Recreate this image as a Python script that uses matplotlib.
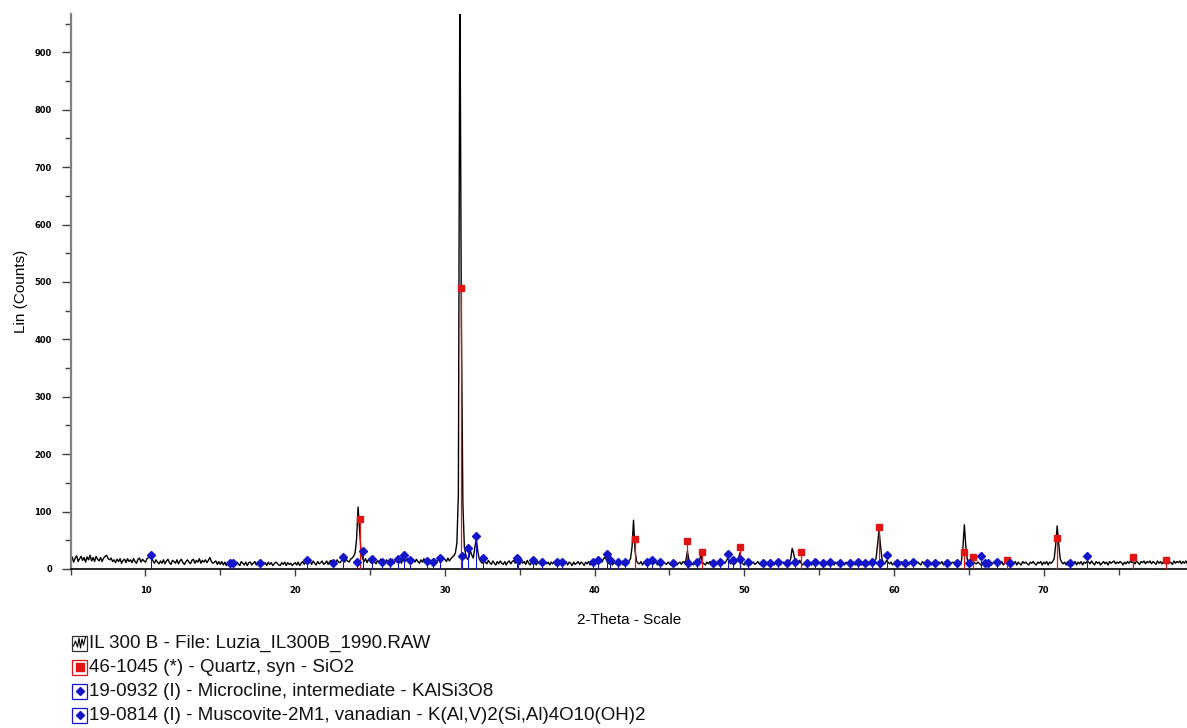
import numpy as np
import matplotlib
matplotlib.use("Agg")
from matplotlib import pyplot as plt
from matplotlib.patches import Rectangle

# measured pattern, one row per degree, 0.1 deg steps starting at 5.0
counts = [
    14, 21, 12, 19, 23, 13, 18, 22, 15, 20,
    12, 21, 16, 24, 14, 20, 13, 22, 17, 14,
    20, 13, 19, 22, 24, 18, 16, 19, 13, 16,
    11, 17, 13, 18, 10, 15, 17, 11, 18, 13,
    16, 11, 18, 13, 10, 17, 19, 12, 17, 14,
    12, 18, 20, 26, 22, 14, 10, 16, 12, 9,
    14, 10, 16, 9, 14, 17, 11, 8, 15, 13,
    10, 16, 9, 14, 17, 11, 8, 13, 16, 12,
    9, 15, 17, 10, 15, 12, 18, 10, 15, 12,
    16, 11, 15, 20, 13, 10, 12, 14, 8, 13,
    8, 13, 7, 12, 6, 11, 13, 7, 12, 9,
    7, 12, 9, 6, 13, 10, 7, 12, 6, 11,
    12, 7, 10, 13, 7, 12, 9, 6, 11, 8,
    11, 6, 12, 8, 11, 6, 9, 12, 10, 7,
    6, 11, 8, 12, 6, 11, 8, 10, 6, 9,
    11, 7, 12, 6, 10, 13, 8, 12, 15, 11,
    13, 8, 14, 10, 7, 13, 9, 11, 14, 8,
    10, 14, 8, 13, 15, 10, 14, 11, 16, 12,
    11, 15, 19, 12, 17, 14, 12, 17, 19, 22,
    28, 52, 108, 70, 30, 18, 13, 18, 11, 17,
    13, 10, 16, 12, 9, 15, 11, 17, 12, 16,
    10, 16, 12, 9, 15, 17, 10, 15, 12, 16,
    15, 10, 19, 12, 16, 18, 11, 15, 10, 16,
    12, 17, 13, 10, 16, 12, 18, 13, 11, 16,
    15, 10, 16, 18, 12, 15, 17, 11, 16, 18,
    17, 13, 19, 14, 18, 21, 23, 28, 45, 130,
    1050, 430, 115, 38, 24, 17, 20, 32, 24, 19,
    38, 52, 30, 17, 13, 10, 16, 12, 9, 15,
    11, 8, 14, 10, 7, 13, 9, 14, 10, 8,
    13, 7, 12, 14, 9, 13, 15, 10, 16, 11,
    8, 14, 10, 13, 8, 15, 10, 7, 13, 9,
    12, 7, 13, 9, 14, 10, 7, 13, 9, 12,
    7, 12, 9, 13, 7, 10, 13, 11, 7, 10,
    9, 13, 7, 12, 10, 6, 12, 8, 10, 13,
    8, 12, 10, 6, 12, 9, 13, 7, 12, 10,
    12, 9, 13, 11, 15, 12, 18, 21, 15, 10,
    9, 13, 7, 12, 9, 13, 8, 10, 12, 7,
    11, 13, 9, 14, 18, 38, 85, 32, 14, 10,
    9, 13, 7, 12, 10, 7, 12, 9, 13, 8,
    10, 12, 7, 13, 9, 6, 12, 10, 8, 12,
    9, 7, 12, 10, 13, 7, 10, 12, 8, 13,
    11, 15, 31, 16, 10, 9, 7, 12, 9, 13,
    14, 24, 12, 9, 7, 12, 9, 13, 7, 10,
    12, 7, 10, 13, 9, 7, 12, 10, 14, 19,
    12, 9, 12, 7, 10, 13, 16, 28, 13, 9,
    7, 12, 9, 13, 7, 10, 12, 8, 10, 13,
    9, 7, 12, 10, 6, 12, 9, 7, 13, 10,
    7, 12, 10, 13, 7, 10, 12, 9, 7, 14,
    12, 18, 36, 27, 13, 10, 9, 15, 10, 7,
    10, 13, 7, 12, 9, 7, 12, 10, 13, 8,
    12, 9, 7, 13, 10, 12, 7, 10, 13, 9,
    7, 12, 9, 13, 7, 12, 10, 7, 12, 9,
    13, 7, 10, 12, 7, 13, 9, 12, 7, 10,
    12, 9, 13, 7, 10, 12, 9, 14, 18, 42,
    68, 40, 17, 11, 9, 15, 12, 9, 12, 7,
    10, 13, 7, 12, 9, 13, 7, 10, 12, 9,
    7, 12, 10, 13, 7, 10, 12, 9, 7, 13,
    10, 7, 12, 9, 13, 7, 10, 12, 7, 10,
    12, 9, 13, 7, 12, 10, 7, 13, 9, 12,
    10, 13, 7, 12, 9, 13, 36, 77, 38, 16,
    12, 14, 18, 13, 10, 9, 12, 10, 7, 10,
    12, 7, 13, 9, 12, 7, 10, 13, 9, 7,
    12, 9, 13, 7, 10, 12, 14, 9, 7, 12,
    10, 13, 7, 12, 9, 7, 13, 10, 12, 9,
    7, 12, 10, 13, 9, 7, 12, 10, 13, 7,
    12, 9, 13, 7, 12, 10, 13, 18, 42, 75,
    45, 18, 12, 9, 12, 7, 13, 10, 12, 7,
    10, 13, 7, 12, 9, 13, 7, 12, 10, 13,
    12, 9, 14, 10, 7, 13, 10, 12, 7, 10,
    13, 9, 12, 7, 13, 10, 12, 14, 9, 12,
    10, 13, 11, 7, 12, 9, 13, 10, 14, 11,
    13, 9, 14, 11, 8, 13, 11, 14, 9, 13,
    11, 14, 9, 13, 11, 8, 14, 10, 13, 9,
    13, 10, 14, 9, 13, 11, 8, 14, 10, 13,
    11, 14, 9, 13, 10, 14, 9, 13, 11, 14,
]
start_2theta = 5.0
step_2theta = 0.1

# reference patterns (2-theta, intensity marker height)
quartz_pos = [24.33, 31.07, 42.70, 46.17, 47.17, 49.73, 53.77, 58.98,
              64.68, 65.26, 67.57, 70.87, 75.95, 78.15]
quartz_int = [87, 490, 52, 49, 29, 39, 29, 73, 29, 21, 15, 54, 21, 15]

microcline_pos = [15.65, 15.87, 17.65, 22.55, 23.17, 24.15, 24.51, 25.11,
                  25.78, 26.33, 26.89, 27.27, 27.67, 28.78, 29.23, 29.67,
                  31.56, 32.08, 32.52, 34.80, 34.90, 35.91, 36.46, 37.47,
                  37.80, 39.90, 40.25, 41.03, 41.58, 42.03, 43.48, 43.81,
                  44.37, 45.26, 46.26, 46.82, 47.93, 48.38, 49.27, 49.71,
                  50.27, 51.27, 51.72, 52.27, 53.39, 54.17, 54.72, 55.28,
                  55.73, 56.39, 57.06, 57.62, 58.06, 58.51, 59.07, 60.18,
                  60.74, 61.30, 62.19, 62.74, 63.52, 64.19, 65.04, 66.06,
                  66.28, 66.89, 67.78, 71.79]
microcline_int = [11, 11, 11, 11, 21, 13, 32, 17,
                  13, 13, 17, 24, 16, 14, 13, 19,
                  36, 57, 19, 19, 16, 16, 13, 13,
                  13, 13, 16, 16, 13, 13, 13, 16,
                  13, 11, 11, 13, 11, 13, 16, 17,
                  13, 11, 11, 13, 13, 10, 13, 10,
                  13, 10, 11, 13, 11, 13, 10, 11,
                  11, 13, 11, 11, 11, 11, 11, 11,
                  10, 13, 11, 11]

muscovite_pos = [10.35, 20.77, 31.17, 40.81, 48.93, 52.83, 59.56, 65.84, 72.90]
muscovite_int = [24, 15, 23, 26, 26, 11, 24, 23, 23]

legend_labels = [
    "IL 300 B - File: Luzia_IL300B_1990.RAW",
    "46-1045 (*) - Quartz, syn - SiO2",
    "19-0932 (I) - Microcline, intermediate - KAlSi3O8",
    "19-0814 (I) - Muscovite-2M1, vanadian - K(Al,V)2(Si,Al)4O10(OH)2",
]

red = "#e01515"
blue = "#1414c8"

W, H = 1187, 728
fig = plt.figure(figsize=(W / 100, H / 100), dpi=100)
ax = fig.add_axes([70.65 / W, 1 - 569 / H, (W - 70.65) / W, 555 / H])

two_theta = start_2theta + step_2theta * np.arange(len(counts))
ax.plot(two_theta, counts, color="black", lw=1.0, zorder=2)

ax.vlines(quartz_pos, 0, quartz_int, color=red, lw=0.9, zorder=3)
ax.plot(quartz_pos, quartz_int, "s", color=red, ms=5, zorder=4)
for pos, inten in [(microcline_pos, microcline_int), (muscovite_pos, muscovite_int)]:
    ax.vlines(pos, 0, inten, color=blue, lw=0.8, zorder=3)
    ax.plot(pos, inten, "D", color=blue, ms=3.6, zorder=4)

ax.set_xlim(5, 5 + (W - 70.65) / 14.97)
ax.set_ylim(0, 555 / 0.5741)

ax.set_xticks(range(10, 80, 10))
ax.set_xticks(range(5, 80, 10), minor=True)
ax.set_yticks(range(0, 1000, 100))
ax.set_yticks(range(50, 1000, 100), minor=True)

ax.spines["top"].set_visible(False)
ax.spines["right"].set_visible(False)
ax.spines["left"].set_color("#808080")
ax.spines["left"].set_linewidth(1.6)
ax.spines["bottom"].set_linewidth(1.2)

ax.tick_params(axis="y", which="major", length=6.5, width=1.0, color="#404040", pad=7)
ax.tick_params(axis="y", which="minor", length=4, width=1.0, color="#404040")
ax.tick_params(axis="x", which="major", length=5, width=1.0, color="#404040", pad=7)
ax.tick_params(axis="x", which="minor", length=4.3, width=1.0, color="#404040")
for lab in ax.get_xticklabels() + ax.get_yticklabels():
    lab.set_fontsize(6)
    lab.set_fontweight("bold")

ax.set_ylabel("Lin (Counts)", family="Liberation Sans", fontsize=11, labelpad=5)
ax.set_xlabel("2-Theta - Scale", family="Liberation Sans", fontsize=11, labelpad=13)

# legend drawn underneath in pixel coordinates
leg = fig.add_axes([0, 0, 1, 1], zorder=-1)
leg.set_xlim(0, W)
leg.set_ylim(H, 0)
leg.axis("off")
rows = [643, 667, 691, 715]
box_x, box_w = 72, 15
for i, (yc, text) in enumerate(zip(rows, legend_labels)):
    edge = ["#303030", red, blue, blue][i]
    leg.add_patch(Rectangle((box_x, yc - 7.5), box_w, 15, fill=False,
                            edgecolor=edge, lw=0.9))
    if i == 0:
        wx = box_x + np.array([1.5, 3.5, 5.5, 7, 8.5, 10, 11.5, 13.5])
        wy = yc + np.array([3, -2, 4, -5, 5, -4, 2, -6])
        leg.plot(wx, wy, color="black", lw=0.8)
    elif i == 1:
        leg.plot(box_x + box_w / 2, yc, "s", color=red, ms=6)
    else:
        leg.plot(box_x + box_w / 2, yc, "D", color=blue, ms=4.5)
    leg.text(box_x + box_w + 2, yc, text, family="Liberation Sans",
             fontsize=13.5, va="center", ha="left", color="#111111")

fig.savefig("out.png", dpi=100)
